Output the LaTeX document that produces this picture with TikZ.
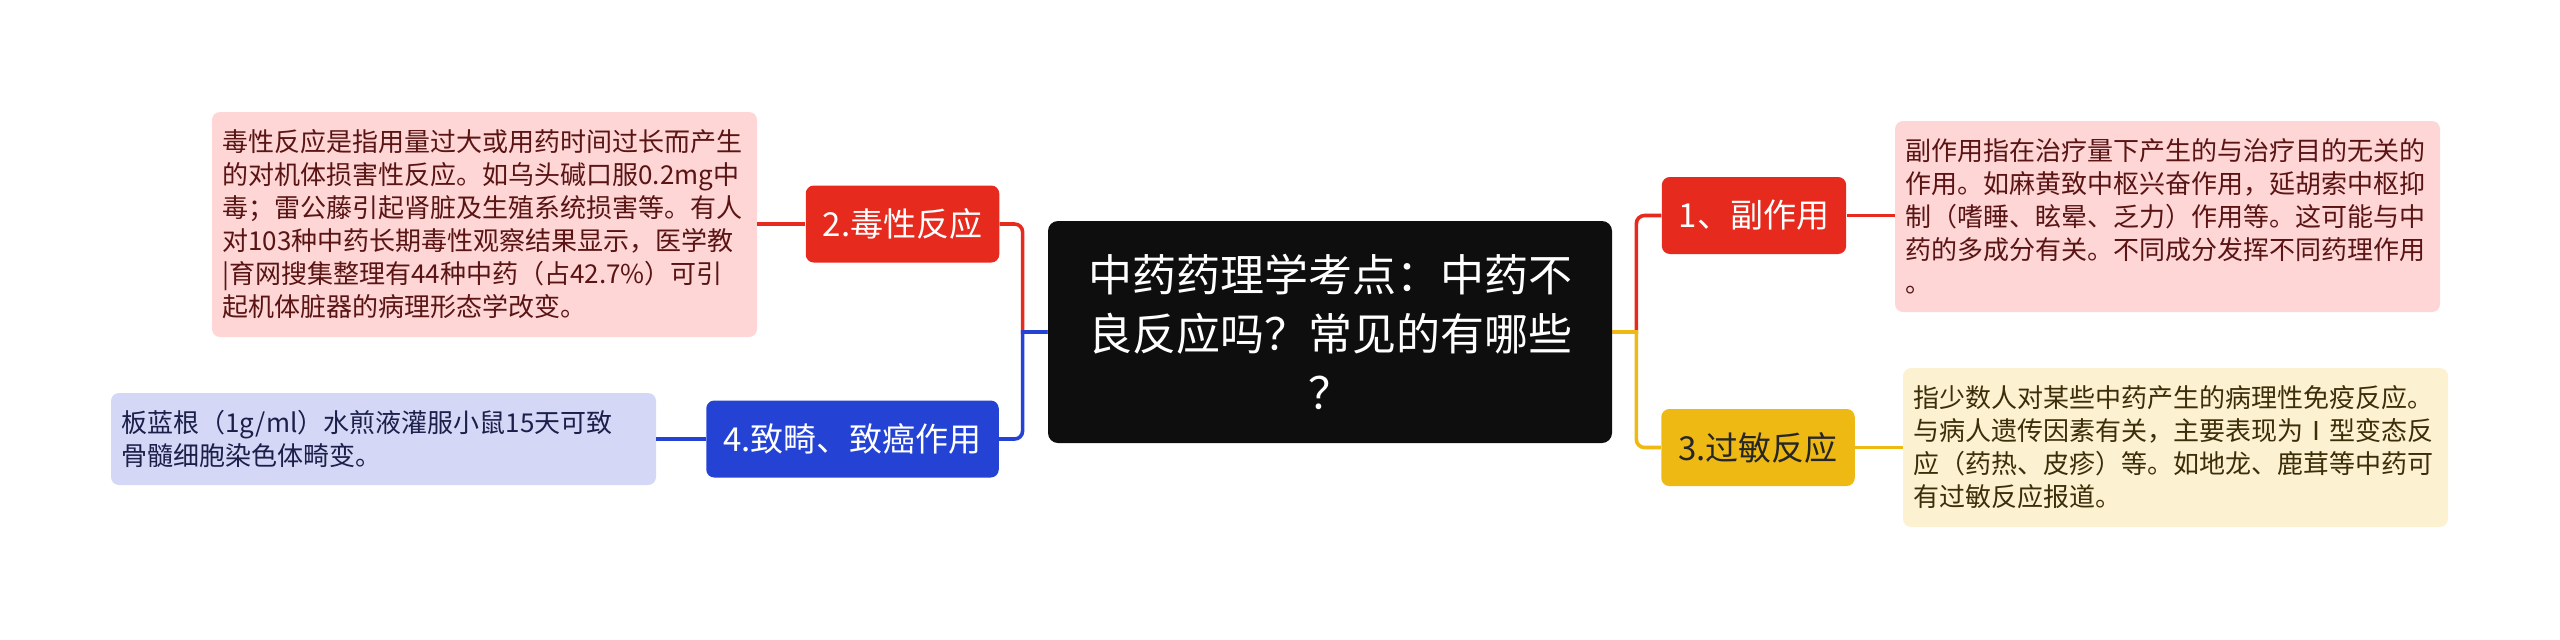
\documentclass[tikz,border=0pt]{standalone}
\usepackage{fontspec}
\setmainfont{Noto Sans CJK SC}
\definecolor{redb}{HTML}{E62B1E}
\definecolor{blueb}{HTML}{2443D4}
\definecolor{yellowb}{HTML}{EFB914}
\definecolor{rootc}{HTML}{0E0E0E}
\definecolor{pinkf}{HTML}{FDD6D5}
\definecolor{bluef}{HTML}{D4D8F6}
\definecolor{yellowf}{HTML}{FCF1D1}
\definecolor{pinkt}{HTML}{5A1414}
\definecolor{bluet}{HTML}{1B1F4A}
\definecolor{yellowt}{HTML}{3D2E0A}
\begin{document}
\begin{tikzpicture}[x=0.5pt,y=-0.5pt,
    root/.style={fill=rootc,text=white,rounded corners=5pt,align=center,
        font=\fontsize{22}{29.5}\selectfont,minimum width=282pt,minimum height=111pt,inner sep=0pt},
    sub/.style={rounded corners=4pt,font=\fontsize{16.5}{20}\selectfont,
        minimum height=38.5pt,inner xsep=8.5pt,inner ysep=0pt},
    leaf/.style={rounded corners=4pt,align=left,font=\fontsize{13}{16.5}\selectfont,
        text width=262pt,minimum width=272.5pt,inner sep=0pt},
    link/.style={line width=1.8pt}]
    
    \useasboundingbox (0,0) rectangle (2560,639);
    
    \node[root] (C) at (1330,332) {中药药理学考点：中药不\\良反应吗？常见的有哪些\\？};
    
    \node[sub,fill=redb,text=white] (B2) at (902.5,224) {2.毒性反应};
    \node[sub,fill=blueb,text=white] (B4) at (852.5,439) {4.致畸、致癌作用};
    \node[sub,fill=redb,text=white] (B1) at (1754,215.5) {1、副作用};
    \node[sub,fill=yellowb,text=black!85] (B3) at (1758,447.5) {3.过敏反应};
    
    \node[leaf,fill=pinkf,text=pinkt,minimum height=112.5pt] (L2) at (484.5,224.5) {毒性反应是指用量过大或用药时间过长而产生\\的对机体损害性反应。如乌头碱口服0.2mg中\\毒；雷公藤引起肾脏及生殖系统损害等。有人\\对103种中药长期毒性观察结果显示，医学教\\|育网搜集整理有44种中药（占42.7\%）可引\\起机体脏器的病理形态学改变。};
    \node[leaf,fill=bluef,text=bluet,minimum height=46pt] (L4) at (383.5,439) {板蓝根（1g/ml）水煎液灌服小鼠15天可致\\骨髓细胞染色体畸变。};
    \node[leaf,fill=pinkf,text=pinkt,minimum height=95.5pt] (L1) at (2167.5,216.5) {副作用指在治疗量下产生的与治疗目的无关的\\作用。如麻黄致中枢兴奋作用，延胡索中枢抑\\制（嗜睡、眩晕、乏力）作用等。这可能与中\\药的多成分有关。不同成分发挥不同药理作用\\。};
    \node[leaf,fill=yellowf,text=yellowt,minimum height=79.5pt] (L3) at (2175.5,447.5) {指少数人对某些中药产生的病理性免疫反应。\\与病人遗传因素有关，主要表现为Ⅰ型变态反\\应（药热、皮疹）等。如地龙、鹿茸等中药可\\有过敏反应报道。};
    
    \draw[link,redb] (C.west) -- ++(-25,0) [rounded corners=4pt] |- (B2.east);
    \draw[link,blueb] (C.west) -- ++(-25,0) [rounded corners=4pt] |- (B4.east);
    \draw[link,redb] (C.east) -- ++(24,0) [rounded corners=4pt] |- (B1.west);
    \draw[link,yellowb] (C.east) -- ++(24,0) [rounded corners=4pt] |- (B3.west);
    
    \draw[link,redb] (B2.west) -- (B2.west -| L2.east);
    \draw[link,blueb] (B4.west) -- (B4.west -| L4.east);
    \draw[link,redb] (B1.east) -- (B1.east -| L1.west);
    \draw[link,yellowb] (B3.east) -- (B3.east -| L3.west);
    
    
\end{tikzpicture}
\end{document}
